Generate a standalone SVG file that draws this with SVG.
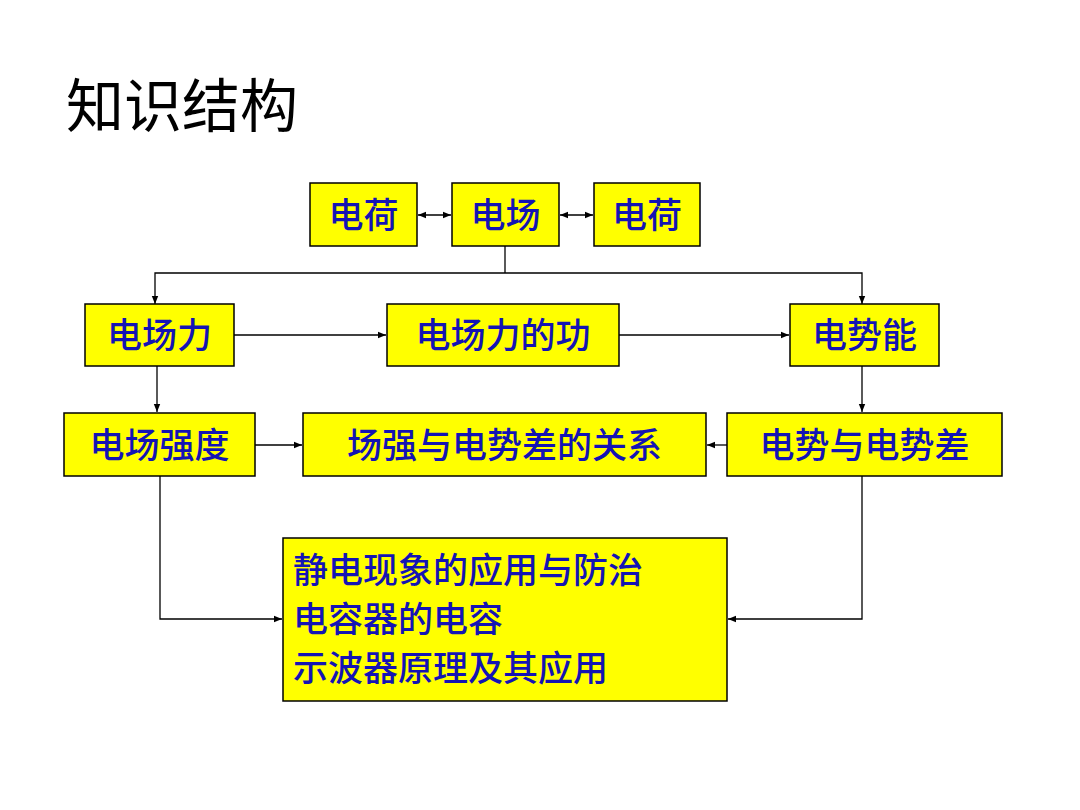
<svg xmlns="http://www.w3.org/2000/svg" width="1080" height="810" viewBox="0 0 1080 810">
<style>
.b{fill:#ffff00;stroke:#000;stroke-width:1.5}
.t{font-family:"Noto Sans CJK SC",sans-serif;font-size:35px;fill:#1414b4;font-weight:500}
.c{fill:none;stroke:#000;stroke-width:1.3}
</style>
<defs>
<marker id="a" viewBox="0 0 10 10" refX="10" refY="5" markerWidth="8" markerHeight="8" orient="auto-start-reverse" markerUnits="userSpaceOnUse"><path d="M0,1 L10,5 L0,9 Z" fill="#000"/></marker>
</defs>
<rect width="1080" height="810" fill="#fff"/>
<text x="66" y="127" font-family="Noto Sans CJK SC,sans-serif" font-size="58" fill="#000">知识结构</text>
<g id="connectors">
<path class="c" d="M418,215 H451" marker-start="url(#a)" marker-end="url(#a)"/>
<path class="c" d="M560,215 H593" marker-start="url(#a)" marker-end="url(#a)"/>
<path class="c" d="M505,246 V273"/>
<path class="c" d="M155,304 V273 H862 V304" marker-start="url(#a)" marker-end="url(#a)"/>
<path class="c" d="M234,335 H386" marker-end="url(#a)"/>
<path class="c" d="M619,335 H789" marker-end="url(#a)"/>
<path class="c" d="M157,366 V412" marker-end="url(#a)"/>
<path class="c" d="M862,366 V412" marker-end="url(#a)"/>
<path class="c" d="M255,445 H302" marker-end="url(#a)"/>
<path class="c" d="M727,445 H707" marker-end="url(#a)"/>
<path class="c" d="M160,476 V619 H282" marker-end="url(#a)"/>
<path class="c" d="M862,476 V619 H728" marker-end="url(#a)"/>
</g>
<g id="n1"><rect class="b" x="310" y="183" width="107" height="63"/><text class="t" x="363.5" y="228" text-anchor="middle">电荷</text></g>
<g id="n2"><rect class="b" x="452" y="183" width="107" height="63"/><text class="t" x="505.5" y="228" text-anchor="middle">电场</text></g>
<g id="n3"><rect class="b" x="594" y="183" width="106" height="63"/><text class="t" x="647" y="228" text-anchor="middle">电荷</text></g>
<g id="n4"><rect class="b" x="85" y="304" width="149" height="62"/><text class="t" x="159.5" y="348" text-anchor="middle">电场力</text></g>
<g id="n5"><rect class="b" x="387" y="304" width="232" height="62"/><text class="t" x="503" y="348" text-anchor="middle">电场力的功</text></g>
<g id="n6"><rect class="b" x="790" y="304" width="149" height="62"/><text class="t" x="864.5" y="348" text-anchor="middle">电势能</text></g>
<g id="n7"><rect class="b" x="64" y="413" width="191" height="63"/><text class="t" x="159.5" y="458" text-anchor="middle">电场强度</text></g>
<g id="n8"><rect class="b" x="303" y="413" width="403" height="63"/><text class="t" x="504.5" y="458" text-anchor="middle">场强与电势差的关系</text></g>
<g id="n9"><rect class="b" x="727" y="413" width="275" height="63"/><text class="t" x="864.5" y="458" text-anchor="middle">电势与电势差</text></g>
<g id="n10"><rect class="b" x="283" y="538" width="444" height="163"/>
<text class="t" x="293" y="583">静电现象的应用与防治</text>
<text class="t" x="293" y="632">电容器的电容</text>
<text class="t" x="293" y="681">示波器原理及其应用</text></g>
</svg>
